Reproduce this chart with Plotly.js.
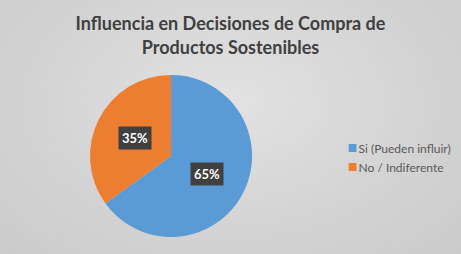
<!DOCTYPE html>
<html>
<head>
<meta charset="utf-8">
<script src="https://cdn.plot.ly/plotly-3.0.1.min.js"></script>
<style>
html,body{margin:0;padding:0;}
body{background:radial-gradient(ellipse at 50% 40%, #e2e2e2 0%, #d3d3d3 60%, #cbcbcb 100%);}
#chart{width:461px;height:254px;}
#chart .legendpoints{transform-box:fill-box;transform-origin:center;transform:translateX(14px) scale(0.65);}
</style>
</head>
<body>
<div id="chart"></div>
<script>
const categories = ["Si (Pueden influir)", "No / Indiferente"];
const values = [65, 35];
const colors = ["#5B9BD5", "#ED7D31"];
const titleText = "Influencia en Decisiones de Compra de<br>Productos Sostenibles";

const W = 461, H = 254;
const domX = [0.195, 0.547], domY = [0.067, 0.705];

// label positions computed from the data (clockwise from 12 o'clock)
const total = values.reduce((a, b) => a + b, 0);
const cx = (domX[0] + domX[1]) / 2, cy = (domY[0] + domY[1]) / 2;
const rPx = Math.min((domX[1] - domX[0]) * W, (domY[1] - domY[0]) * H) / 2;
const annotations = [];
let acc = 0;
values.forEach((v, i) => {
  const mid = (acc + v / 2) / total * 2 * Math.PI;
  acc += v;
  const d = rPx * 0.5;
  const x = cx + Math.sin(mid) * d / W;
  const y = cy + Math.cos(mid) * d / H;
  const txt = Math.round(v / total * 100) + "%";
  annotations.push({x: x, y: y, xref: "paper", yref: "paper", xanchor: "center", yanchor: "middle",
    text: txt, showarrow: false, bgcolor: "#404040", borderpad: 3,
    font: {family: "Lato, sans-serif", size: 13, color: "#ffffff", weight: "bold"}});
});

const data = [{
  type: "pie",
  labels: categories,
  values: values,
  sort: false,
  direction: "clockwise",
  rotation: 0,
  textinfo: "none",
  hoverinfo: "label+percent",
  marker: {colors: colors, line: {color: "rgba(0,0,0,0)", width: 0}},
  domain: {x: domX, y: domY}
}];

const layout = {
  width: W, height: H,
  margin: {l: 0, r: 0, t: 0, b: 0, autoexpand: false},
  paper_bgcolor: "rgba(0,0,0,0)",
  plot_bgcolor: "rgba(0,0,0,0)",
  title: {text: titleText, x: 0.5, xanchor: "center", y: 0.88, yanchor: "middle",
    font: {family: "Lato, sans-serif", size: 18, color: "#404040", weight: "bold"}},
  showlegend: true,
  legend: {x: 0.691, y: 0.38, xanchor: "left", yanchor: "middle",
    font: {family: "Lato, sans-serif", size: 12, color: "#595959"},
    itemwidth: 30, bgcolor: "rgba(0,0,0,0)"},
  annotations: annotations
};

Plotly.newPlot("chart", data, layout, {displayModeBar: false, staticPlot: true});
</script>
</body>
</html>
